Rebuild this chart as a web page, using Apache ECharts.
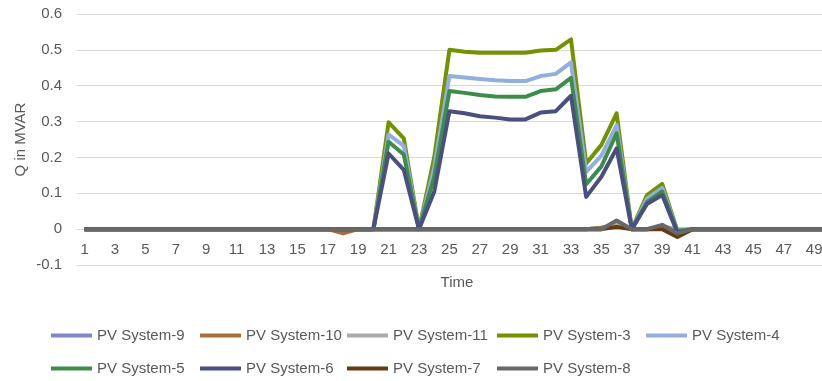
<!DOCTYPE html>
<html>
<head>
<meta charset="utf-8">
<script src="https://cdn.jsdelivr.net/npm/echarts@6/dist/echarts.min.js"></script>
<style>
  html, body { margin: 0; padding: 0; background: #ffffff; }
  #chart { width: 822px; height: 381px; }
</style>
</head>
<body>
<div id="chart"></div>
<script>
// Time steps 1..50
const timeSteps = [1, 2, 3, 4, 5, 6, 7, 8, 9, 10, 11, 12, 13, 14, 15, 16, 17, 18, 19, 20,
  21, 22, 23, 24, 25, 26, 27, 28, 29, 30, 31, 32, 33, 34, 35, 36, 37, 38, 39, 40,
  41, 42, 43, 44, 45, 46, 47, 48, 49, 50];

// Reactive power (MVAR) per PV system
const pv9 = [0, 0, 0, 0, 0, 0, 0, 0, 0, 0, 0, 0, 0, 0, 0, 0, 0, -0.004, 0, 0,
  0, 0, 0, 0, 0, 0, 0, 0, 0, 0, 0, 0, 0, 0, 0.004, 0.012, 0, 0, 0.005, -0.006,
  0, 0, 0, 0, 0, 0, 0, 0, 0, 0];
const pv10 = [0, 0, 0, 0, 0, 0, 0, 0, 0, 0, 0, 0, 0, 0, 0, 0, 0, -0.012, 0, 0,
  0, 0, 0, 0, 0, 0, 0, 0, 0, 0, 0, 0, 0, 0, 0.004, 0.008, 0, 0, 0.003, -0.01,
  0, 0, 0, 0, 0, 0, 0, 0, 0, 0];
const pv11 = [0, 0, 0, 0, 0, 0, 0, 0, 0, 0, 0, 0, 0, 0, 0, 0, 0, 0, 0, 0,
  0, 0, 0, 0, 0, 0, 0, 0, 0, 0, 0, 0, 0, 0, 0, 0.018, 0, 0, 0.008, 0,
  0, 0, 0, 0, 0, 0, 0, 0, 0, 0];
const pv3 = [0, 0, 0, 0, 0, 0, 0, 0, 0, 0, 0, 0, 0, 0, 0, 0, 0, 0, 0, 0,
  0.298, 0.253, 0, 0.2, 0.5, 0.495, 0.492, 0.492, 0.492, 0.492, 0.498, 0.5, 0.529, 0.183, 0.235, 0.323, 0, 0.095, 0.126, -0.005,
  0, 0, 0, 0, 0, 0, 0, 0, 0, 0];
const pv4 = [0, 0, 0, 0, 0, 0, 0, 0, 0, 0, 0, 0, 0, 0, 0, 0, 0, 0, 0, 0,
  0.264, 0.232, 0, 0.17, 0.427, 0.423, 0.419, 0.415, 0.413, 0.413, 0.427, 0.433, 0.465, 0.16, 0.205, 0.29, 0, 0.085, 0.115, -0.005,
  0, 0, 0, 0, 0, 0, 0, 0, 0, 0];
const pv5 = [0, 0, 0, 0, 0, 0, 0, 0, 0, 0, 0, 0, 0, 0, 0, 0, 0, 0, 0, 0,
  0.244, 0.208, 0, 0.145, 0.385, 0.38, 0.374, 0.37, 0.369, 0.369, 0.385, 0.39, 0.422, 0.125, 0.175, 0.267, 0, 0.075, 0.105, -0.006,
  0, 0, 0, 0, 0, 0, 0, 0, 0, 0];
const pv6 = [0, 0, 0, 0, 0, 0, 0, 0, 0, 0, 0, 0, 0, 0, 0, 0, 0, 0, 0, 0,
  0.211, 0.165, 0, 0.104, 0.329, 0.323, 0.315, 0.311, 0.306, 0.306, 0.325, 0.329, 0.372, 0.09, 0.146, 0.225, 0, 0.07, 0.095, -0.01,
  0, 0, 0, 0, 0, 0, 0, 0, 0, 0];
const pv7 = [0, 0, 0, 0, 0, 0, 0, 0, 0, 0, 0, 0, 0, 0, 0, 0, 0, 0, 0, 0,
  0, 0, 0, 0, 0, 0, 0, 0, 0, 0, 0, 0, 0, 0, 0, 0.006, 0, 0, 0, -0.022,
  0, 0, 0, 0, 0, 0, 0, 0, 0, 0];
const pv8 = [0, 0, 0, 0, 0, 0, 0, 0, 0, 0, 0, 0, 0, 0, 0, 0, 0, 0, 0, 0,
  0, 0, 0, 0, 0, 0, 0, 0, 0, 0, 0, 0, 0, 0, 0, 0.024, 0, 0, 0.012, -0.012,
  0, 0, 0, 0, 0, 0, 0, 0, 0, 0];

const seriesNames = ['PV System-9', 'PV System-10', 'PV System-11', 'PV System-3', 'PV System-4',
  'PV System-5', 'PV System-6', 'PV System-7', 'PV System-8'];
const seriesData = [pv9, pv10, pv11, pv3, pv4, pv5, pv6, pv7, pv8];
const seriesColors = ['#8486CC', '#A5703A', '#ABABAB', '#739200', '#92AEDE',
  '#3E8C4B', '#4A4F80', '#633C10', '#686868'];

const textColor = '#595959';
const fontFamily = 'Liberation Sans, Arial, sans-serif';

// legend grid: five columns, two rows
const legendColumnLeft = [51, 200, 347, 497, 646];
const legendRowTop = [328, 361];

const legends = seriesNames.map(function (name, i) {
  return {
    left: legendColumnLeft[i % 5],
    top: legendRowTop[Math.floor(i / 5)],
    orient: 'horizontal',
    icon: 'rect',
    padding: 0,
    itemWidth: 41,
    itemHeight: 4,
    data: [name],
    textStyle: { color: textColor, fontSize: 15, fontFamily: fontFamily }
  };
});

const chart = echarts.init(document.getElementById('chart'), null, { renderer: 'canvas' });
chart.setOption({
  animation: false,
  backgroundColor: '#ffffff',
  // plot area runs past the right edge of the canvas
  grid: { left: 77, top: 14, width: 760, height: 251, outerBoundsMode: 'none' },
  xAxis: {
    type: 'category',
    data: timeSteps,
    boundaryGap: true,
    name: 'Time',
    nameLocation: 'middle',
    nameGap: 10,
    nameMoveOverlap: false,
    nameTextStyle: { color: textColor, fontSize: 15, fontFamily: fontFamily },
    axisLine: { onZero: false, lineStyle: { color: '#D9D9D9', width: 1 } },
    axisTick: { show: false },
    // tick labels sit just under the zero line
    axisLabel: { interval: 1, margin: -23, color: textColor, fontSize: 15, fontFamily: fontFamily },
    splitLine: { show: false }
  },
  yAxis: {
    type: 'value',
    min: -0.1,
    max: 0.6,
    interval: 0.1,
    name: 'Q in MVAR',
    nameLocation: 'middle',
    nameGap: 49,
    nameMoveOverlap: false,
    nameTextStyle: { color: textColor, fontSize: 15, fontFamily: fontFamily },
    axisLine: { show: false },
    axisTick: { show: false },
    axisLabel: {
      margin: 15, color: textColor, fontSize: 15, fontFamily: fontFamily,
      formatter: function (v) { return String(Math.round(v * 10) / 10); }
    },
    splitLine: { lineStyle: { color: '#D9D9D9', width: 1 } }
  },
  legend: legends,
  series: seriesNames.map(function (name, i) {
    return {
      name: name,
      type: 'line',
      data: seriesData[i],
      symbol: 'none',
      color: seriesColors[i],
      lineStyle: { width: 4, color: seriesColors[i], join: 'round' },
      emphasis: { disabled: true }
    };
  })
});
</script>
</body>
</html>
